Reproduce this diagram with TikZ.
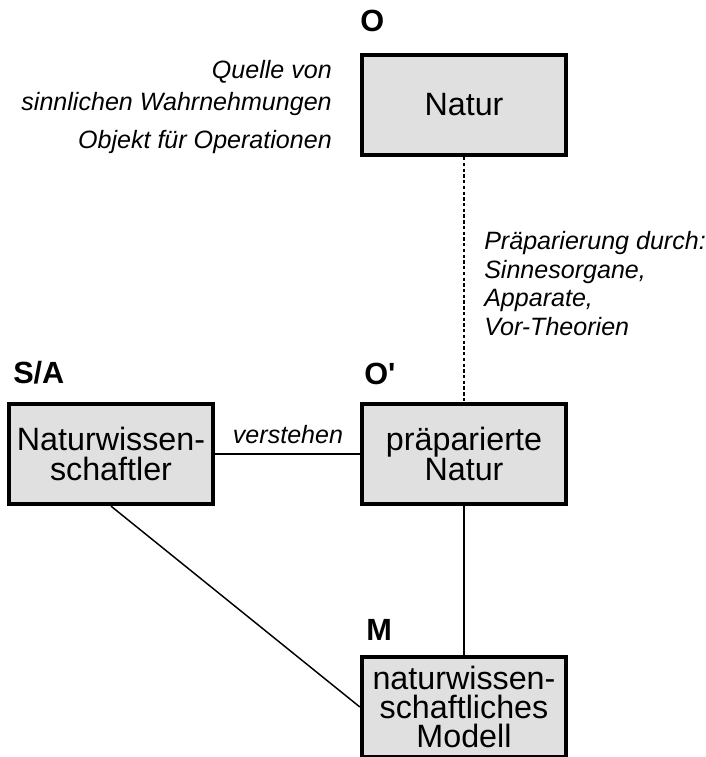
\documentclass[tikz,border=0pt]{standalone}
\usepackage{fontspec}
\setmainfont{Liberation Sans}
\definecolor{boxgray}{HTML}{E0E0E0}
\begin{document}
\begin{tikzpicture}[x=0.75pt,y=-0.75pt,
  box/.style={draw=black, fill=boxgray, line width=3.2pt, minimum width=153pt, minimum height=75pt, inner sep=0pt, align=center, font=\fontsize{24.2}{22}\selectfont},
  tag/.style={inner sep=0pt, font=\fontsize{23}{26}\selectfont\bfseries},
  note/.style={inner sep=0pt, font=\fontsize{18.8}{21}\selectfont\itshape},
  conn/.style={line width=1.1pt},
  dotconn/.style={line width=1pt, dash pattern=on 2.5pt off 1.8pt}]
\clip (0,0) rectangle (706,757);
\fill[white] (0,0) rectangle (706,757);
% boxes
\node[box] (natur) at (464,105) {Natur};
\node[box] (sa) at (111,454) {Naturwissen-\\schaftler};
\node[box] (op) at (464,454) {präparierte\\Natur};
\node[box] (m) at (464,707) {naturwissen-\\schaftliches\\Modell};
% tags
\node[tag, anchor=west] (tO) at (360,21) {O};
\node[tag, anchor=west] (tSA) at (13,373) {S/A};
\node[tag, anchor=west] (tOp) at (364,374) {O\textquotesingle};
\node[tag, anchor=west] (tM) at (366,630) {M};
% notes
\node[note, anchor=base east] (q1) at (332,78) {Quelle von};
\node[note, anchor=base east] (q2) at (332,110) {sinnlichen Wahrnehmungen};
\node[note, anchor=base east] (q3) at (332,148) {Objekt für Operationen};
\node[note, anchor=base west] (p1) at (484,249) {Präparierung durch:};
\node[note, anchor=base west] (p2) at (484,278) {Sinnesorgane,};
\node[note, anchor=base west] (p3) at (484,306) {Apparate,};
\node[note, anchor=base west] (p4) at (484,335) {Vor-Theorien};
\node[note, anchor=base] (vs) at (288,443) {verstehen};
% connectors
\draw[dotconn] (natur.south) -- (op.north);
\draw[conn] (sa.east) -- (op.west);
\draw[conn] (sa.south) -- (m.west);
\draw[conn] (op.south) -- (m.north);
\end{tikzpicture}
\end{document}
